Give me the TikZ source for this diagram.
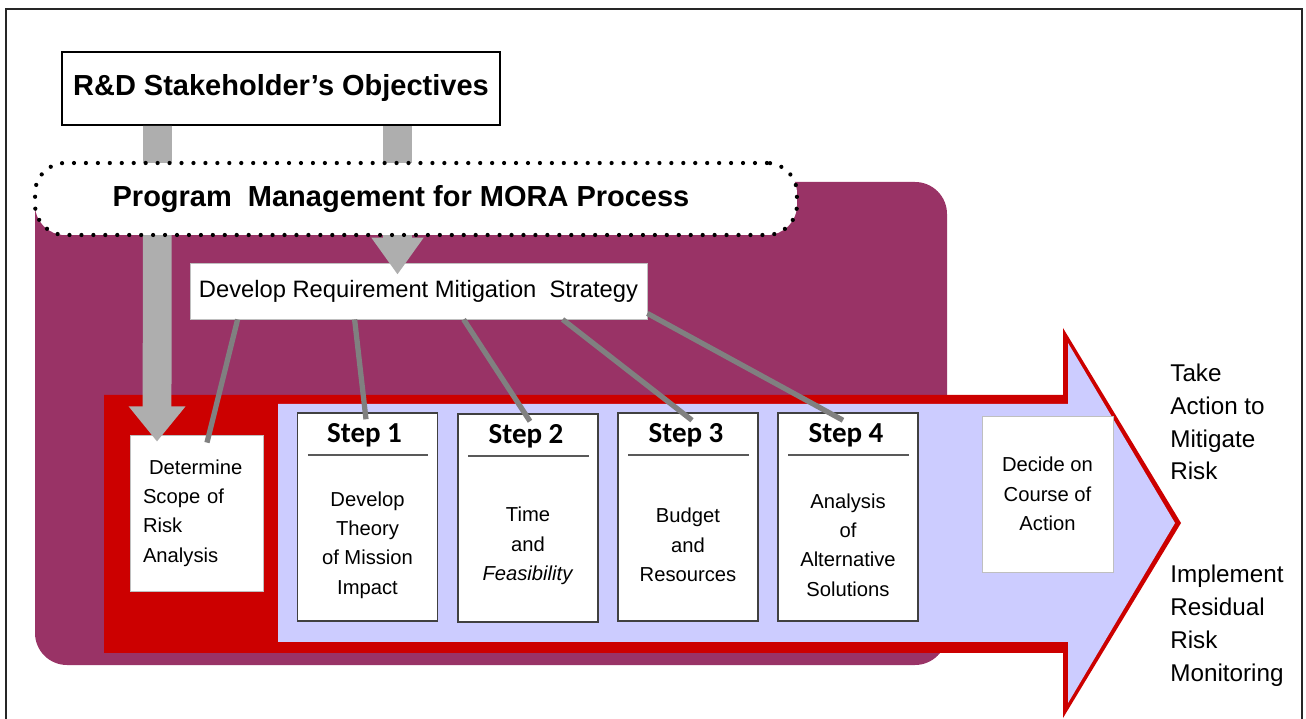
\documentclass[tikz,border=0pt]{standalone}
\usepackage{fontspec}
\setmainfont{Liberation Sans}
\newfontfamily\calfont{Carlito}
\usetikzlibrary{arrows.meta,calc}
\definecolor{mora}{RGB}{153,51,102}
\definecolor{riskred}{RGB}{204,0,0}
\definecolor{lavender}{RGB}{204,204,255}
\definecolor{fatgray}{RGB}{174,174,174}
\definecolor{linkgray}{RGB}{128,128,128}
\tikzset{
  goalbox/.style={rectangle, draw=black, line width=1.1pt, fill=white, inner sep=0pt,
    minimum width=8.76cm, minimum height=1.46cm, font=\bfseries\fontsize{16.5}{20}\selectfont},
  mgmtbox/.style={rectangle, rounded corners=0.6cm, draw=black, fill=white, line width=2.4pt,
    dash pattern=on 0pt off 6.8pt, line cap=round, inner sep=0pt,
    minimum width=15.24cm, minimum height=1.44cm, font=\bfseries\fontsize{16.5}{20}\selectfont},
  taskbox/.style={rectangle, draw=black!25, line width=0.5pt, fill=white, inner sep=0pt},
  stepbox/.style={rectangle, draw=black!75, line width=0.85pt, fill=white,
    minimum width=2.8cm, minimum height=4.16cm, inner sep=0pt},
  stephead/.style={font=\calfont\bfseries\fontsize{16.5}{20}\selectfont, inner sep=0pt, anchor=base},
  steptext/.style={font=\fontsize{11.5}{16.7}\selectfont, align=center, inner sep=0pt},
  outcome/.style={font=\fontsize{13.8}{18.7}\selectfont, align=left, anchor=west, inner sep=0pt},
  headrule/.style={draw=black!65, line width=1.1pt},
  link/.style={draw=linkgray, line width=3pt},
  fatarrow/.style={draw=fatgray, line width=16.4pt, -{Triangle[length=20pt, width=31pt]}},
}

\begin{document}
\begin{tikzpicture}[x=0.02cm, y=-0.02cm]
  \useasboundingbox (0,0) rectangle (1306,719);
  % frame, open at the bottom
  \draw[black!85, line width=0.7pt] (6,719) -- (6,9) -- (1302,9) -- (1302,719);
  % process panel and the big arrow across it
  \fill[mora, rounded corners=0.64cm] (35,182) rectangle (947,665);
  \fill[riskred] (104,395) -- (1063,395) -- (1063,328) -- (1181,523) -- (1063,718)
    -- (1063,653) -- (104,653) -- cycle;
  \fill[lavender] (278,404) -- (1068,404) -- (1068,343) -- (1175,523) -- (1068,703)
    -- (1068,642) -- (278,642) -- cycle;
  % boxes
  \node[goalbox] (rd) at (281,88.5) {R\&D Stakeholder’s Objectives};
  \node[taskbox, minimum width=9.14cm, minimum height=1.12cm,
    font=\fontsize{13.5}{16}\selectfont] (drms) at (418.5,291) {Develop Requirement Mitigation~ Strategy};
  \node[taskbox, text width=2.14cm, inner xsep=0.26cm, minimum height=3.12cm, align=left,
    font=\fontsize{11.5}{16.7}\selectfont] (scope) at (196.5,513) {\hspace*{0.3em}Determine\\Scope of\\Risk\\Analysis};
  \node[stepbox] (s1) at (367.5,517) {};
  \node[stepbox] (s2) at (528,518) {};
  \node[stepbox] (s3) at (688,517) {};
  \node[stepbox] (s4) at (848,517) {};
  \node[stephead] (h1) at ($(s1.north)+(-3,30)$) {Step 1};
  \node[stephead] (h2) at ($(s2.north)+(-2,30)$) {Step 2};
  \node[stephead] (h3) at ($(s3.north)+(-2,30)$) {Step 3};
  \node[stephead] (h4) at ($(s4.north)+(-2,30)$) {Step 4};
  \draw[headrule] ($(s1.north west)+(11,43)$) -- ($(s1.north east)+(-10,43)$);
  \draw[headrule] ($(s2.north west)+(11,43)$) -- ($(s2.north east)+(-10,43)$);
  \draw[headrule] ($(s3.north west)+(11,43)$) -- ($(s3.north east)+(-10,43)$);
  \draw[headrule] ($(s4.north west)+(11,43)$) -- ($(s4.north east)+(-10,43)$);
  \node[steptext] (b1) at ($(s1.center)+(0,28)$) {Develop\\Theory\\of Mission\\Impact};
  \node[steptext] (b2) at ($(s2.center)+(0,28)$) {Time\\and\\\textit{Feasibility}};
  \node[steptext] (b3) at ($(s3.center)+(0,28)$) {Budget\\and\\Resources};
  \node[steptext] (b4) at ($(s4.center)+(0,28)$) {Analysis\\of\\Alternative\\Solutions};
  \node[taskbox, minimum width=2.62cm, minimum height=3.12cm, align=center,
    font=\fontsize{11.5}{16.7}\selectfont] (decide) at (1047.5,494) {Decide on\\Course of\\Action};
  \node[outcome] (act) at (1170,422) {Take\\Action to\\Mitigate\\Risk};
  \node[outcome] (mon) at (1170,626) {Implement\\Residual\\Risk\\Monitoring};
  % objectives feeding down
  \draw[fatarrow] ($(rd.south)+(-123.5,0)$) -- ($(scope.north)+(-39.5,7)$);
  \draw[fatarrow, -{Triangle[length=21pt, width=28.3pt]}] ($(rd.south)+(116.5,0)$) -- ($(drms.north)+(-21,12)$);
  % strategy to each step
  \draw[link] ($(drms.south west)+(48,0)$) -- ($(scope.north)+(10.5,8)$);
  \draw[link] ($(drms.south west)+(165,0)$) -- ($(s1.north)+(-1.5,7)$);
  \draw[link] ($(drms.south west)+(274,0)$) -- ($(s2.north)+(2,8)$);
  \draw[link] ($(drms.south west)+(373,0)$) -- ($(s3.north)+(4,8)$);
  \draw[link] ($(drms.south east)+(0,-6)$) -- ($(s4.north)+(-5,8)$);
  % management band over the arrows
  \node[mgmtbox] (pm) at (416,199) {Program~ Management for MORA Process\hspace*{0.6cm}};
\end{tikzpicture}
\end{document}
